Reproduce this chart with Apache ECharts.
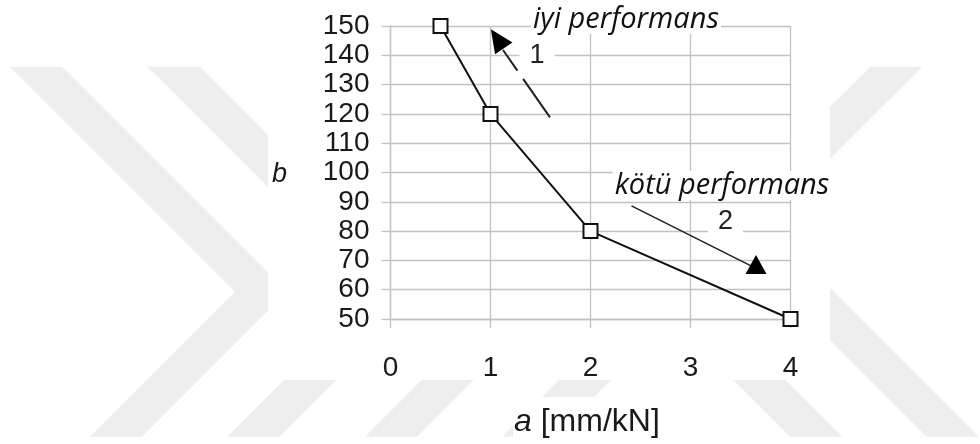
<!DOCTYPE html>
<html>
<head>
<meta charset="utf-8">
<script src="https://cdn.jsdelivr.net/npm/echarts@6/dist/echarts.min.js"></script>
<style>
  html, body { margin: 0; padding: 0; background: #fff; }
  #chart { width: 980px; height: 444px; }
</style>
</head>
<body>
<div id="chart"></div>
<script>
// Measured curve: a [mm/kN] against b
const aValues = [0.5, 1, 2, 4];
const bValues = [150, 120, 80, 50];

// Axis ticks
const aTicks = [0, 1, 2, 3, 4];
const bTicks = [50, 60, 70, 80, 90, 100, 110, 120, 130, 140, 150];

// Trend arrows (data coordinates): shaft start, shaft end, head centre
const arrowUpShaft = [[1.595, 118.8], [1.125, 141.8]];
const arrowUpHead = [1.068, 145.6];
const arrowDownShaft = [[2.41, 88.6], [3.625, 67.8]];
const arrowDownHead = [3.655, 68.6];

// Annotation texts and their anchor points (data coordinates)
const noteTexts = ['iyi performans', 'kötü performans', '1', '2'];
const notePoints = [[2.355, 152.2], [3.315, 95.6], [1.465, 139.8], [3.35, 83.2]];
const noteSizes = [29, 29, 27, 27];

const chart = echarts.init(document.getElementById('chart'), null, { renderer: 'canvas' });

const gridColor = '#c2c2c2';
const inkColor = '#1a1a1a';
const tickFont = 'Liberation Sans, Arial, sans-serif';
const noteFont = '"Open Sans", Lato, sans-serif';

// Faint chevron watermark in the page background
const T = 66.7, A = 291.7, B = 436.7, W = 52;
const rightChevrons = [10, 147.5, 285, 422.5];
const leftChevrons = [[870, 926.7], [733, 790]];
const deco = [];
rightChevrons.forEach(function (x0) {
  deco.push({
    type: 'polygon', z: -20, silent: true,
    shape: { points: [[x0, T], [x0 + W, T], [x0 + W + 225, A], [x0 + W + 80, B], [x0 + 80, B], [x0 + 225, A]] },
    style: { fill: '#eeeeee' }
  });
});
leftChevrons.forEach(function (p) {
  const xt = p[0], xb = p[1];
  const ay = (xt - xb + T + B) / 2;
  const ax = xt - (ay - T);
  deco.push({
    type: 'polygon', z: -20, silent: true,
    shape: { points: [[xt, T], [xt + W, T], [ax + W, ay], [xb + W, B], [xb, B], [ax, ay]] },
    style: { fill: '#eeeeee' }
  });
});
// white panels behind the plot and the axis title
deco.push({ type: 'rect', z: -10, silent: true, shape: { x: 268, y: 0, width: 562, height: 380 }, style: { fill: '#fff' } });
deco.push({ type: 'rect', z: -10, silent: true, shape: { x: 513, y: 397, width: 200, height: 47 }, style: { fill: '#fff' } });

// Axis names
deco.push({
  type: 'text', z: 50, left: 272, top: 161,
  style: { text: 'b', font: 'italic 27px ' + tickFont, fill: inkColor }
});
deco.push({
  type: 'text', z: 50, left: 514, top: 406,
  style: {
    text: '{i|a} [mm/kN]',
    font: '32px ' + tickFont,
    fill: inkColor,
    rich: { i: { fontStyle: 'italic', fontSize: 32, fontFamily: tickFont, fill: inkColor } }
  }
});

const option = {
  backgroundColor: '#fff',
  animation: false,
  grid: { left: 390.5, right: 189.5, top: 26, bottom: 125, containLabel: false },
  xAxis: {
    type: 'value', min: aTicks[0], max: aTicks[aTicks.length - 1], interval: 1,
    axisLine: { show: true, lineStyle: { color: gridColor, width: 1.3 } },
    axisTick: { show: true, length: 9, lineStyle: { color: gridColor, width: 1.3 } },
    splitLine: { show: true, lineStyle: { color: gridColor, width: 1.3 } },
    axisLabel: { margin: 35, fontSize: 28, fontFamily: tickFont, color: inkColor,
      formatter: function (v) { return aTicks.indexOf(v) >= 0 ? String(v) : ''; } }
  },
  yAxis: {
    type: 'value', min: bTicks[0], max: bTicks[bTicks.length - 1], interval: 10,
    axisLine: { show: true, lineStyle: { color: gridColor, width: 1.3 } },
    axisTick: { show: true, length: 9, lineStyle: { color: gridColor, width: 1.3 } },
    splitLine: { show: true, lineStyle: { color: gridColor, width: 1.3 } },
    axisLabel: { margin: 21, fontSize: 28, fontFamily: tickFont, color: inkColor,
      formatter: function (v) { return bTicks.indexOf(v) >= 0 ? String(v) : ''; } }
  },
  graphic: deco,
  series: [
    {
      type: 'line',
      data: aValues.map(function (a, i) { return [a, bValues[i]]; }),
      symbol: 'rect', symbolSize: 14, showAllSymbol: true,
      lineStyle: { color: '#111', width: 2 },
      itemStyle: { color: '#fff', borderColor: '#111', borderWidth: 2 },
      z: 5
    },
    {
      type: 'lines', coordinateSystem: 'cartesian2d', z: 4,
      data: [{ coords: arrowUpShaft }],
      lineStyle: { color: '#222', width: 2, type: [47, 10], opacity: 1 },
      symbol: ['none', 'none']
    },
    {
      type: 'lines', coordinateSystem: 'cartesian2d', z: 4,
      data: [{ coords: arrowDownShaft }],
      lineStyle: { color: '#222', width: 1.6, type: 'solid', opacity: 1 },
      symbol: ['none', 'none']
    },
    {
      type: 'scatter', z: 6, silent: true, clip: false,
      data: [
        { value: arrowUpHead, symbolSize: [21, 23], symbolRotate: 34 },
        { value: arrowDownHead, symbolSize: [21, 19], symbolRotate: 0 }
      ],
      symbol: 'triangle',
      itemStyle: { color: '#000', opacity: 1 }
    },
    {
      type: 'scatter', z: 7, silent: true, symbolSize: 1, clip: false,
      data: notePoints.map(function (p, i) { return { value: p, name: noteTexts[i] }; }),
      label: {
        show: true, position: 'inside', opacity: 1,
        formatter: function (p) { return p.name; }
      },
      itemStyle: { color: '#fff', opacity: 0 }
    }
  ]
};

// per-label styling for the annotation texts
option.series[4].data.forEach(function (d, i) {
  if (i < 2) {
    d.label = { fontFamily: noteFont, fontStyle: 'italic', fontSize: noteSizes[i], color: '#111', opacity: 1,
      backgroundColor: '#fff', padding: [0, 2] };
  } else {
    d.label = { fontFamily: tickFont, fontSize: noteSizes[i], color: '#222', opacity: 1,
      backgroundColor: '#fff', padding: [0, 10] };
  }
});

chart.setOption(option);
</script>
</body>
</html>
